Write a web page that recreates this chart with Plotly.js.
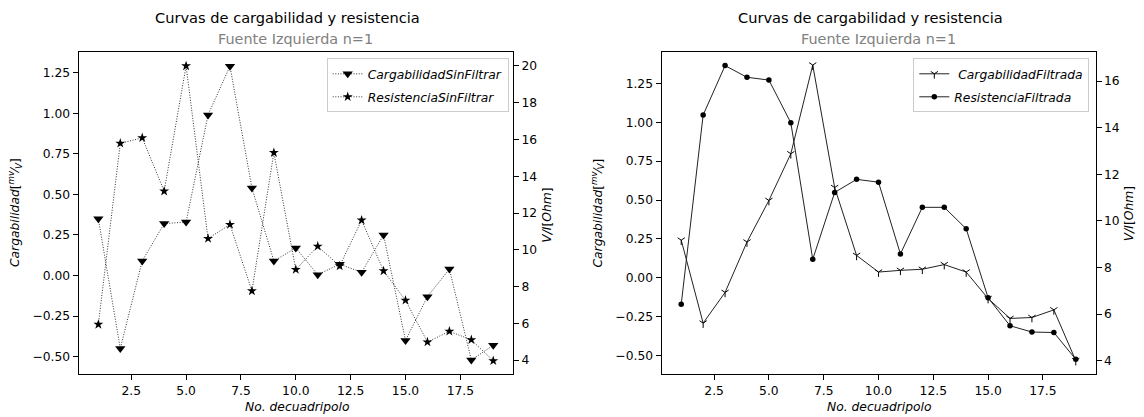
<!DOCTYPE html>
<html>
<head>
<meta charset="utf-8">
<script src="https://cdn.plot.ly/plotly-3.0.1.min.js"></script>
<style>html,body{margin:0;padding:0;background:#fff;}#chart{width:1144px;height:417px;}</style>
</head>
<body>
<div id="chart"></div>
<script>
// ---- data ----
const cuadripolos = [1,2,3,4,5,6,7,8,9,10,11,12,13,14,15,16,17,18,19];
const cargabilidadSinFiltrar = [0.35,-0.45,0.09,0.32,0.33,0.99,1.29,0.54,0.09,0.17,0.005,0.07,0.02,0.25,-0.40,-0.13,0.04,-0.52,-0.43];
const resistenciaSinFiltrar = [5.94,15.79,16.09,13.19,20.0,10.61,11.37,7.76,15.28,8.92,10.19,9.12,11.61,8.85,7.25,4.98,5.56,5.10,3.96];
const cargabilidadFiltrada = [0.242,-0.291,-0.094,0.230,0.497,0.797,1.367,0.58,0.144,0.037,0.048,0.055,0.085,0.037,-0.133,-0.261,-0.255,-0.206,-0.532];
const resistenciaFiltrada = [6.42,14.54,16.66,16.16,16.04,14.21,8.35,11.22,11.78,11.66,8.58,10.58,10.58,9.66,6.70,5.50,5.23,5.21,4.06];
const titulo = "Curvas de cargabilidad y resistencia";
const subtitulo = "Fuente Izquierda n=1";
const nombres = ["CargabilidadSinFiltrar","ResistenciaSinFiltrar","CargabilidadFiltrada","ResistenciaFiltrada"];

// ---- layout helpers ----
const W = 1144, H = 417;
const FONT = "DejaVu Sans";
const px = v => v / W;
const py = v => 1 - v / H;
const TICKF = {family: FONT, size: 12.3, color: "#000"};

const traces = [
  {x: cuadripolos, y: cargabilidadSinFiltrar, name: nombres[0], xaxis: "x", yaxis: "y", mode: "lines+markers",
   line: {color: "#333", width: 1, dash: "1px,1.6px"}, marker: {symbol: "triangle-down", size: 9, color: "#000"},
   legend: "legend", legendgroup: "a"},
  {x: cuadripolos, y: resistenciaSinFiltrar, name: nombres[1], xaxis: "x", yaxis: "y2", mode: "lines+markers",
   line: {color: "#333", width: 1, dash: "1px,1.6px"}, marker: {symbol: "star", size: 7.5, color: "#000"},
   legend: "legend", legendgroup: "b"},
  {x: cuadripolos, y: cargabilidadFiltrada, name: " " + nombres[2], xaxis: "x2", yaxis: "y3", mode: "lines+markers",
   line: {color: "#222", width: 1}, marker: {symbol: "y-down-open", size: 6, color: "#000", line: {color: "#000", width: 1}},
   legend: "legend2", legendgroup: "c"},
  {x: cuadripolos, y: resistenciaFiltrada, name: nombres[3], xaxis: "x2", yaxis: "y4", mode: "lines+markers",
   line: {color: "#222", width: 1}, marker: {symbol: "circle", size: 5.5, color: "#000"},
   legend: "legend2", legendgroup: "d"}
];

function xax(domain, anchor) {
  return {domain: domain, anchor: anchor, range: [0.1, 19.9], tick0: 0, dtick: 2.5, tickformat: ".1f",
    showline: true, mirror: true, linecolor: "#000", linewidth: 1, ticks: "outside", ticklen: 5, tickwidth: 1,
    tickcolor: "#000", showgrid: false, zeroline: false, tickfont: TICKF};
}
function yax(range, dtick, fmt, anchor, extra) {
  return Object.assign({domain: [py(374), py(52)], anchor: anchor, range: range, tick0: 0, dtick: dtick, tickformat: fmt,
    showline: true, linecolor: "#000", linewidth: 1, ticks: "outside", ticklen: 5, tickwidth: 1,
    tickcolor: "#000", showgrid: false, zeroline: false, tickfont: TICKF}, extra || {});
}

const legendBase = {font: {family: FONT, size: 12.3, color: "#000", style: "italic"}, bgcolor: "rgba(255,255,255,0.8)",
  bordercolor: "#cccccc", borderwidth: 1, xanchor: "left", yanchor: "top", traceorder: "grouped", tracegroupgap: 4};

const annFont = (size, color) => ({family: FONT, size: size, color: color});
const ann = (x, y, text, size, color, angle) => ({xref: "paper", yref: "paper", x: px(x), y: py(y), text: text,
  showarrow: false, xanchor: "center", yanchor: "middle", font: annFont(size, color), textangle: angle || 0});

const ylabelL = "<i>Cargabilidad</i>[<sup><i>mv</i></sup>⁄<sub><i>V</i></sub>]";
const ylabelR = "<i>V/I</i>[<i>Ohm</i>]";
const xlabel = "<i>No. decuadripolo</i>";

const layout = {
  width: W, height: H, margin: {l: 0, r: 0, t: 0, b: 0}, paper_bgcolor: "#fff", plot_bgcolor: "#fff",
  showlegend: true,
  xaxis: xax([px(78.6), px(513)], "y"),
  yaxis: yax([-0.6066, 1.3775], 0.25, ".2f", "x"),
  yaxis2: yax([3.24, 20.76], 2, "d", "x", {overlaying: "y", side: "right"}),
  xaxis2: xax([px(661.5), px(1095.5)], "y3"),
  yaxis3: yax([-0.618, 1.451], 0.25, ".2f", "x2"),
  yaxis4: yax([3.43, 17.244], 2, "d", "x2", {overlaying: "y3", side: "right"}),
  legend: Object.assign({}, legendBase, {x: px(326.7), y: py(58.3)}),
  legend2: Object.assign({}, legendBase, {x: px(913.3), y: py(58.3)}),
  annotations: [
    ann(287, 17.5, titulo, 14.6, "#000"),
    ann(295.8, 39, subtitulo, 14.4, "#808080"),
    ann(870, 17.5, titulo, 14.6, "#000"),
    ann(878.5, 39, subtitulo, 14.4, "#808080"),
    ann(297, 407, xlabel, 12.3, "#000"),
    ann(879.5, 407, xlabel, 12.3, "#000"),
    ann(15, 213, ylabelL, 12.3, "#000", -90),
    ann(597.5, 213, ylabelL, 12.3, "#000", -90),
    ann(546.7, 215, ylabelR, 12.3, "#000", -90),
    ann(1129.3, 214, ylabelR, 12.3, "#000", -90)
  ]
};

Plotly.newPlot("chart", traces, layout, {displayModeBar: false, staticPlot: true});
</script>
</body>
</html>
